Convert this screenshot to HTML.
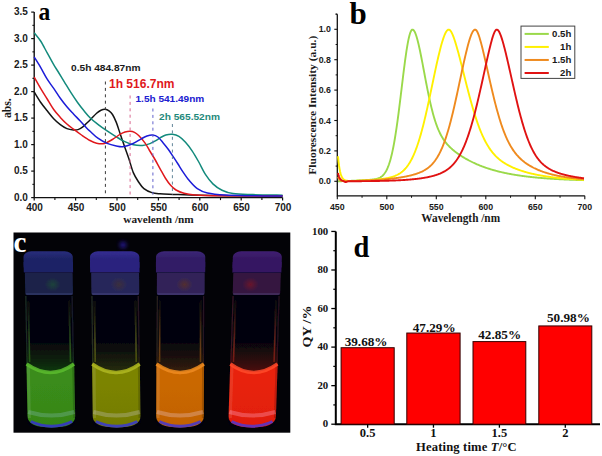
<!DOCTYPE html>
<html><head><meta charset="utf-8"><title>Figure</title>
<style>html,body{margin:0;padding:0;background:#fff;width:602px;height:456px;overflow:hidden;font-family:"Liberation Sans",sans-serif;}svg{display:block;}</style>
</head><body><svg width="602" height="456" viewBox="0 0 602 456"><rect width="602" height="456" fill="#fff"/><path d="M34.2,12.1 V197.6 H282.6" fill="none" stroke="#111" stroke-width="1.4"/><line x1="31.2" y1="197.60" x2="34.2" y2="197.60" stroke="#111" stroke-width="1.2"/><text x="27.9" y="200.60" text-anchor="end" font-family="'Liberation Sans',sans-serif" font-weight="bold" font-size="10" fill="#1a1a1a">0.0</text><line x1="32.4" y1="184.35" x2="34.2" y2="184.35" stroke="#111" stroke-width="1.1"/><line x1="31.2" y1="171.10" x2="34.2" y2="171.10" stroke="#111" stroke-width="1.2"/><text x="27.9" y="174.10" text-anchor="end" font-family="'Liberation Sans',sans-serif" font-weight="bold" font-size="10" fill="#1a1a1a">0.5</text><line x1="32.4" y1="157.85" x2="34.2" y2="157.85" stroke="#111" stroke-width="1.1"/><line x1="31.2" y1="144.60" x2="34.2" y2="144.60" stroke="#111" stroke-width="1.2"/><text x="27.9" y="147.60" text-anchor="end" font-family="'Liberation Sans',sans-serif" font-weight="bold" font-size="10" fill="#1a1a1a">1.0</text><line x1="32.4" y1="131.35" x2="34.2" y2="131.35" stroke="#111" stroke-width="1.1"/><line x1="31.2" y1="118.10" x2="34.2" y2="118.10" stroke="#111" stroke-width="1.2"/><text x="27.9" y="121.10" text-anchor="end" font-family="'Liberation Sans',sans-serif" font-weight="bold" font-size="10" fill="#1a1a1a">1.5</text><line x1="32.4" y1="104.85" x2="34.2" y2="104.85" stroke="#111" stroke-width="1.1"/><line x1="31.2" y1="91.60" x2="34.2" y2="91.60" stroke="#111" stroke-width="1.2"/><text x="27.9" y="94.60" text-anchor="end" font-family="'Liberation Sans',sans-serif" font-weight="bold" font-size="10" fill="#1a1a1a">2.0</text><line x1="32.4" y1="78.35" x2="34.2" y2="78.35" stroke="#111" stroke-width="1.1"/><line x1="31.2" y1="65.10" x2="34.2" y2="65.10" stroke="#111" stroke-width="1.2"/><text x="27.9" y="68.10" text-anchor="end" font-family="'Liberation Sans',sans-serif" font-weight="bold" font-size="10" fill="#1a1a1a">2.5</text><line x1="32.4" y1="51.85" x2="34.2" y2="51.85" stroke="#111" stroke-width="1.1"/><line x1="31.2" y1="38.60" x2="34.2" y2="38.60" stroke="#111" stroke-width="1.2"/><text x="27.9" y="41.60" text-anchor="end" font-family="'Liberation Sans',sans-serif" font-weight="bold" font-size="10" fill="#1a1a1a">3.0</text><line x1="32.4" y1="25.35" x2="34.2" y2="25.35" stroke="#111" stroke-width="1.1"/><line x1="31.2" y1="12.10" x2="34.2" y2="12.10" stroke="#111" stroke-width="1.2"/><text x="27.9" y="15.10" text-anchor="end" font-family="'Liberation Sans',sans-serif" font-weight="bold" font-size="10" fill="#1a1a1a">3.5</text><line x1="34.20" y1="197.6" x2="34.20" y2="200.6" stroke="#111" stroke-width="1.2"/><text x="34.60" y="210.9" text-anchor="middle" font-family="'Liberation Sans',sans-serif" font-weight="bold" font-size="10" fill="#1a1a1a">400</text><line x1="54.90" y1="197.6" x2="54.90" y2="200.1" stroke="#111" stroke-width="1.1"/><line x1="75.60" y1="197.6" x2="75.60" y2="200.6" stroke="#111" stroke-width="1.2"/><text x="76.00" y="210.9" text-anchor="middle" font-family="'Liberation Sans',sans-serif" font-weight="bold" font-size="10" fill="#1a1a1a">450</text><line x1="96.30" y1="197.6" x2="96.30" y2="200.1" stroke="#111" stroke-width="1.1"/><line x1="117.00" y1="197.6" x2="117.00" y2="200.6" stroke="#111" stroke-width="1.2"/><text x="117.40" y="210.9" text-anchor="middle" font-family="'Liberation Sans',sans-serif" font-weight="bold" font-size="10" fill="#1a1a1a">500</text><line x1="137.70" y1="197.6" x2="137.70" y2="200.1" stroke="#111" stroke-width="1.1"/><line x1="158.40" y1="197.6" x2="158.40" y2="200.6" stroke="#111" stroke-width="1.2"/><text x="158.80" y="210.9" text-anchor="middle" font-family="'Liberation Sans',sans-serif" font-weight="bold" font-size="10" fill="#1a1a1a">550</text><line x1="179.10" y1="197.6" x2="179.10" y2="200.1" stroke="#111" stroke-width="1.1"/><line x1="199.80" y1="197.6" x2="199.80" y2="200.6" stroke="#111" stroke-width="1.2"/><text x="200.20" y="210.9" text-anchor="middle" font-family="'Liberation Sans',sans-serif" font-weight="bold" font-size="10" fill="#1a1a1a">600</text><line x1="220.50" y1="197.6" x2="220.50" y2="200.1" stroke="#111" stroke-width="1.1"/><line x1="241.20" y1="197.6" x2="241.20" y2="200.6" stroke="#111" stroke-width="1.2"/><text x="241.60" y="210.9" text-anchor="middle" font-family="'Liberation Sans',sans-serif" font-weight="bold" font-size="10" fill="#1a1a1a">650</text><line x1="261.90" y1="197.6" x2="261.90" y2="200.1" stroke="#111" stroke-width="1.1"/><line x1="282.60" y1="197.6" x2="282.60" y2="200.6" stroke="#111" stroke-width="1.2"/><text x="283.00" y="210.9" text-anchor="middle" font-family="'Liberation Sans',sans-serif" font-weight="bold" font-size="10" fill="#1a1a1a">700</text><path d="M34.20,92.00 C35.27,93.70 38.43,99.07 40.60,102.20 C42.77,105.33 45.02,108.05 47.20,110.80 C49.38,113.55 51.52,116.40 53.70,118.70 C55.88,121.00 58.10,122.95 60.30,124.60 C62.50,126.25 64.70,127.72 66.90,128.60 C69.10,129.48 71.65,129.73 73.50,129.90 C75.35,130.07 76.50,130.05 78.00,129.60 C79.50,129.15 81.07,128.25 82.50,127.20 C83.93,126.15 85.18,124.67 86.60,123.30 C88.02,121.93 89.33,120.68 91.00,119.00 C92.67,117.32 94.93,114.67 96.60,113.20 C98.27,111.73 99.57,110.85 101.00,110.20 C102.43,109.55 103.87,109.20 105.20,109.30 C106.53,109.40 107.78,109.93 109.00,110.80 C110.22,111.67 111.28,112.57 112.50,114.50 C113.72,116.43 115.00,119.12 116.30,122.40 C117.60,125.68 118.98,130.35 120.30,134.20 C121.62,138.05 122.78,141.45 124.20,145.50 C125.62,149.55 127.28,153.98 128.80,158.50 C130.32,163.02 131.67,168.68 133.30,172.60 C134.93,176.52 136.83,179.33 138.60,182.00 C140.37,184.67 141.68,186.83 143.90,188.60 C146.12,190.37 149.22,191.73 151.90,192.60 C154.58,193.47 156.43,193.50 160.00,193.80 C163.57,194.10 166.63,194.15 173.30,194.40 C179.97,194.65 188.88,195.08 200.00,195.30 C211.12,195.52 226.23,195.60 240.00,195.70 C253.77,195.80 275.50,195.87 282.60,195.90" fill="none" stroke="#141414" stroke-width="1.5" stroke-linejoin="round"/><path d="M34.20,32.70 C35.27,34.08 38.43,37.63 40.60,41.00 C42.77,44.37 45.02,48.95 47.20,52.90 C49.38,56.85 51.90,61.60 53.70,64.70 C55.50,67.80 56.23,68.65 58.00,71.50 C59.77,74.35 62.17,78.32 64.30,81.80 C66.43,85.28 68.62,89.00 70.80,92.40 C72.98,95.80 75.20,99.13 77.40,102.20 C79.60,105.27 81.82,108.13 84.00,110.80 C86.18,113.47 88.18,115.95 90.50,118.20 C92.82,120.45 95.13,122.18 97.90,124.30 C100.67,126.42 104.03,128.82 107.10,130.90 C110.17,132.98 113.45,135.05 116.30,136.80 C119.15,138.55 121.35,140.08 124.20,141.40 C127.05,142.72 130.33,144.03 133.40,144.70 C136.47,145.37 139.83,145.58 142.60,145.40 C145.37,145.22 147.88,144.35 150.00,143.60 C152.12,142.85 153.55,141.90 155.30,140.90 C157.05,139.90 158.75,138.58 160.50,137.60 C162.25,136.62 163.82,135.55 165.80,135.00 C167.78,134.45 170.22,134.08 172.40,134.30 C174.58,134.52 176.72,134.98 178.90,136.30 C181.08,137.62 183.30,139.78 185.50,142.20 C187.70,144.62 189.93,147.58 192.10,150.80 C194.27,154.02 196.25,157.52 198.50,161.50 C200.75,165.48 203.20,170.97 205.60,174.70 C208.00,178.43 210.17,181.30 212.90,183.90 C215.63,186.50 218.65,188.68 222.00,190.30 C225.35,191.92 227.83,192.88 233.00,193.60 C238.17,194.32 244.73,194.33 253.00,194.60 C261.27,194.87 277.67,195.10 282.60,195.20" fill="none" stroke="#138a7c" stroke-width="1.5" stroke-linejoin="round"/><path d="M34.20,77.20 C35.27,79.07 38.43,84.77 40.60,88.40 C42.77,92.03 45.02,95.48 47.20,99.00 C49.38,102.52 51.52,106.43 53.70,109.50 C55.88,112.57 58.10,114.98 60.30,117.40 C62.50,119.82 64.70,122.03 66.90,124.00 C69.10,125.97 71.07,127.37 73.50,129.20 C75.93,131.03 78.75,133.12 81.50,135.00 C84.25,136.88 87.48,139.13 90.00,140.50 C92.52,141.87 94.18,142.72 96.60,143.20 C99.02,143.68 101.87,144.02 104.50,143.40 C107.13,142.78 109.77,141.03 112.40,139.50 C115.03,137.97 118.20,135.45 120.30,134.20 C122.40,132.95 123.37,132.50 125.00,132.00 C126.63,131.50 128.52,131.15 130.10,131.20 C131.68,131.25 133.07,131.58 134.50,132.30 C135.93,133.02 136.90,133.65 138.70,135.50 C140.50,137.35 143.50,140.90 145.30,143.40 C147.10,145.90 147.88,147.82 149.50,150.50 C151.12,153.18 153.25,156.48 155.00,159.50 C156.75,162.52 158.28,165.52 160.00,168.60 C161.72,171.68 163.53,175.22 165.30,178.00 C167.07,180.78 168.82,183.30 170.60,185.30 C172.38,187.30 173.77,188.67 176.00,190.00 C178.23,191.33 180.90,192.48 184.00,193.30 C187.10,194.12 188.60,194.50 194.60,194.90 C200.60,195.30 205.33,195.50 220.00,195.70 C234.67,195.90 272.17,196.03 282.60,196.10" fill="none" stroke="#e0181c" stroke-width="1.5" stroke-linejoin="round"/><path d="M34.20,57.00 C35.27,58.73 38.43,63.70 40.60,67.40 C42.77,71.10 45.02,75.70 47.20,79.20 C49.38,82.70 51.52,85.22 53.70,88.40 C55.88,91.58 58.10,95.23 60.30,98.30 C62.50,101.37 64.70,104.18 66.90,106.80 C69.10,109.42 71.32,111.68 73.50,114.00 C75.68,116.32 77.82,118.38 80.00,120.70 C82.18,123.02 84.93,126.15 86.60,127.90 C88.27,129.65 88.12,129.48 90.00,131.20 C91.88,132.92 95.05,136.17 97.90,138.20 C100.75,140.23 104.03,142.10 107.10,143.40 C110.17,144.70 113.67,145.45 116.30,146.00 C118.93,146.55 120.27,147.03 122.90,146.70 C125.53,146.37 129.03,145.32 132.10,144.00 C135.17,142.68 138.82,140.13 141.30,138.80 C143.78,137.47 145.12,136.63 147.00,136.00 C148.88,135.37 150.78,134.83 152.60,135.00 C154.42,135.17 156.13,135.68 157.90,137.00 C159.67,138.32 161.45,140.82 163.20,142.90 C164.95,144.98 166.65,147.08 168.40,149.50 C170.15,151.92 172.10,154.98 173.70,157.40 C175.30,159.82 176.52,161.68 178.00,164.00 C179.48,166.32 180.72,168.53 182.60,171.30 C184.48,174.07 186.85,177.72 189.30,180.60 C191.75,183.48 194.28,186.53 197.30,188.60 C200.32,190.67 202.67,191.92 207.40,193.00 C212.13,194.08 218.60,194.63 225.70,195.10 C232.80,195.57 240.52,195.63 250.00,195.80 C259.48,195.97 277.17,196.05 282.60,196.10" fill="none" stroke="#1c1cd8" stroke-width="1.5" stroke-linejoin="round"/><line x1="105.4" y1="81.5" x2="105.4" y2="195" stroke="#3a3a3a" stroke-width="1" stroke-dasharray="3,3.4"/><line x1="130.1" y1="95.5" x2="130.1" y2="195" stroke="#d86890" stroke-width="1" stroke-dasharray="3,3.4"/><line x1="152.9" y1="108.5" x2="152.9" y2="195" stroke="#6262cc" stroke-width="1" stroke-dasharray="3,3.4"/><line x1="172.4" y1="124" x2="172.4" y2="195" stroke="#62869a" stroke-width="1" stroke-dasharray="3,3.4"/><text x="71" y="71" font-family="'Liberation Sans',sans-serif" font-weight="bold" font-size="9.6" fill="#1a1a1a" textLength="69.5" lengthAdjust="spacingAndGlyphs">0.5h 484.87nm</text><text x="109" y="87.6" font-family="'Liberation Sans',sans-serif" font-weight="bold" font-size="12" fill="#e0181c" textLength="65.5" lengthAdjust="spacingAndGlyphs">1h 516.7nm</text><text x="135.5" y="101.7" font-family="'Liberation Sans',sans-serif" font-weight="bold" font-size="9.6" fill="#2020d0" textLength="68.8" lengthAdjust="spacingAndGlyphs">1.5h 541.49nm</text><text x="159" y="119.6" font-family="'Liberation Sans',sans-serif" font-weight="bold" font-size="9.6" fill="#1f8a7c" textLength="61" lengthAdjust="spacingAndGlyphs">2h 565.52nm</text><text x="158.5" y="223" text-anchor="middle" font-family="'Liberation Serif',serif" font-weight="bold" font-size="11" fill="#1a1a1a" textLength="70.5" lengthAdjust="spacingAndGlyphs">wavelenth /nm</text><text transform="translate(10.8,108.2) rotate(-90)" text-anchor="middle" font-family="'Liberation Serif',serif" font-weight="bold" font-size="12" fill="#1a1a1a" textLength="19.8" lengthAdjust="spacingAndGlyphs">abs.</text><text x="38.4" y="19.8" font-family="'Liberation Serif',serif" font-weight="bold" font-size="26" fill="#000" textLength="11.8" lengthAdjust="spacingAndGlyphs">a</text><path d="M337.3,14.2 V195.8 H584.8" fill="none" stroke="#111" stroke-width="1.3"/><line x1="334.3" y1="181.30" x2="337.3" y2="181.30" stroke="#111" stroke-width="1.1"/><text x="330.9" y="184.40" text-anchor="end" font-family="'Liberation Sans',sans-serif" font-weight="bold" font-size="8.8" fill="#1a1a1a">0.0</text><line x1="335.6" y1="166.10" x2="337.3" y2="166.10" stroke="#111" stroke-width="1"/><line x1="334.3" y1="150.90" x2="337.3" y2="150.90" stroke="#111" stroke-width="1.1"/><text x="330.9" y="154.00" text-anchor="end" font-family="'Liberation Sans',sans-serif" font-weight="bold" font-size="8.8" fill="#1a1a1a">0.2</text><line x1="335.6" y1="135.70" x2="337.3" y2="135.70" stroke="#111" stroke-width="1"/><line x1="334.3" y1="120.50" x2="337.3" y2="120.50" stroke="#111" stroke-width="1.1"/><text x="330.9" y="123.60" text-anchor="end" font-family="'Liberation Sans',sans-serif" font-weight="bold" font-size="8.8" fill="#1a1a1a">0.4</text><line x1="335.6" y1="105.30" x2="337.3" y2="105.30" stroke="#111" stroke-width="1"/><line x1="334.3" y1="90.10" x2="337.3" y2="90.10" stroke="#111" stroke-width="1.1"/><text x="330.9" y="93.20" text-anchor="end" font-family="'Liberation Sans',sans-serif" font-weight="bold" font-size="8.8" fill="#1a1a1a">0.6</text><line x1="335.6" y1="74.90" x2="337.3" y2="74.90" stroke="#111" stroke-width="1"/><line x1="334.3" y1="59.70" x2="337.3" y2="59.70" stroke="#111" stroke-width="1.1"/><text x="330.9" y="62.80" text-anchor="end" font-family="'Liberation Sans',sans-serif" font-weight="bold" font-size="8.8" fill="#1a1a1a">0.8</text><line x1="335.6" y1="44.50" x2="337.3" y2="44.50" stroke="#111" stroke-width="1"/><line x1="334.3" y1="29.30" x2="337.3" y2="29.30" stroke="#111" stroke-width="1.1"/><text x="330.9" y="32.40" text-anchor="end" font-family="'Liberation Sans',sans-serif" font-weight="bold" font-size="8.8" fill="#1a1a1a">1.0</text><line x1="335.6" y1="14.10" x2="337.3" y2="14.10" stroke="#111" stroke-width="1"/><line x1="335.6" y1="14.2" x2="337.3" y2="14.2" stroke="#111" stroke-width="1"/><line x1="337.30" y1="195.8" x2="337.30" y2="199.3" stroke="#111" stroke-width="1.1"/><text x="337.30" y="210.4" text-anchor="middle" font-family="'Liberation Sans',sans-serif" font-weight="bold" font-size="8.8" fill="#1a1a1a">450</text><line x1="362.05" y1="195.8" x2="362.05" y2="197.8" stroke="#111" stroke-width="1"/><line x1="386.80" y1="195.8" x2="386.80" y2="199.3" stroke="#111" stroke-width="1.1"/><text x="386.80" y="210.4" text-anchor="middle" font-family="'Liberation Sans',sans-serif" font-weight="bold" font-size="8.8" fill="#1a1a1a">500</text><line x1="411.55" y1="195.8" x2="411.55" y2="197.8" stroke="#111" stroke-width="1"/><line x1="436.30" y1="195.8" x2="436.30" y2="199.3" stroke="#111" stroke-width="1.1"/><text x="436.30" y="210.4" text-anchor="middle" font-family="'Liberation Sans',sans-serif" font-weight="bold" font-size="8.8" fill="#1a1a1a">550</text><line x1="461.05" y1="195.8" x2="461.05" y2="197.8" stroke="#111" stroke-width="1"/><line x1="485.80" y1="195.8" x2="485.80" y2="199.3" stroke="#111" stroke-width="1.1"/><text x="485.80" y="210.4" text-anchor="middle" font-family="'Liberation Sans',sans-serif" font-weight="bold" font-size="8.8" fill="#1a1a1a">600</text><line x1="510.55" y1="195.8" x2="510.55" y2="197.8" stroke="#111" stroke-width="1"/><line x1="535.30" y1="195.8" x2="535.30" y2="199.3" stroke="#111" stroke-width="1.1"/><text x="535.30" y="210.4" text-anchor="middle" font-family="'Liberation Sans',sans-serif" font-weight="bold" font-size="8.8" fill="#1a1a1a">650</text><line x1="560.05" y1="195.8" x2="560.05" y2="197.8" stroke="#111" stroke-width="1"/><line x1="584.80" y1="195.8" x2="584.80" y2="199.3" stroke="#111" stroke-width="1.1"/><text x="584.80" y="210.4" text-anchor="middle" font-family="'Liberation Sans',sans-serif" font-weight="bold" font-size="8.8" fill="#1a1a1a">700</text><path d="M338.00,181.30 L338.50,181.28 L339.00,181.27 L339.50,181.25 L340.00,181.24 L340.50,181.22 L341.00,181.20 L341.50,181.19 L342.00,181.17 L342.50,181.15 L343.00,181.14 L343.50,181.12 L344.00,181.10 L344.50,181.09 L345.00,181.07 L345.50,181.05 L346.00,181.03 L346.50,181.01 L347.00,180.99 L347.50,180.98 L348.00,180.96 L348.50,180.94 L349.00,180.92 L349.50,180.90 L350.00,180.88 L350.50,180.86 L351.00,180.84 L351.50,180.82 L352.00,180.80 L352.50,180.78 L353.00,180.75 L353.50,180.73 L354.00,180.71 L354.50,180.69 L355.00,180.67 L355.50,180.64 L356.00,180.62 L356.50,180.60 L357.00,180.57 L357.50,180.55 L358.00,180.53 L358.50,180.50 L359.00,180.48 L359.50,180.45 L360.00,180.43 L360.50,180.40 L361.00,180.38 L361.50,180.35 L362.00,180.33 L362.50,180.30 L363.00,180.27 L363.50,180.24 L364.00,180.21 L364.50,180.19 L365.00,180.16 L365.50,180.13 L366.00,180.10 L366.50,180.06 L367.00,180.03 L367.50,180.00 L368.00,179.96 L368.50,179.92 L369.00,179.89 L369.50,179.85 L370.00,179.80 L370.50,179.76 L371.00,179.71 L371.50,179.66 L372.00,179.61 L372.50,179.55 L373.00,179.48 L373.50,179.41 L374.00,179.34 L374.50,179.26 L375.00,179.17 L375.50,179.07 L376.00,178.96 L376.50,178.83 L377.00,178.70 L377.50,178.55 L378.00,178.38 L378.50,178.20 L379.00,177.99 L379.50,177.76 L380.00,177.51 L380.50,177.23 L381.00,176.91 L381.50,176.56 L382.00,176.17 L382.50,175.74 L383.00,175.27 L383.50,174.74 L384.00,174.16 L384.50,173.52 L385.00,172.82 L385.50,172.05 L386.00,171.21 L386.50,170.28 L387.00,169.27 L387.50,168.18 L388.00,166.98 L388.50,165.69 L389.00,164.29 L389.50,162.78 L390.00,161.16 L390.50,159.42 L391.00,157.55 L391.50,155.55 L392.00,153.42 L392.50,151.16 L393.00,148.76 L393.50,146.22 L394.00,143.55 L394.50,140.73 L395.00,137.78 L395.50,134.69 L396.00,131.47 L396.50,128.12 L397.00,124.65 L397.50,121.06 L398.00,117.36 L398.50,113.56 L399.00,109.68 L399.50,105.71 L400.00,101.68 L400.50,97.60 L401.00,93.48 L401.50,89.33 L402.00,85.19 L402.50,81.05 L403.00,76.95 L403.50,72.90 L404.00,68.91 L404.50,65.02 L405.00,61.23 L405.50,57.58 L406.00,54.07 L406.50,50.73 L407.00,47.57 L407.50,44.62 L408.00,41.89 L408.50,39.41 L409.00,37.17 L409.50,35.20 L410.00,33.51 L410.50,32.12 L411.00,31.02 L411.50,30.23 L412.00,29.76 L412.50,29.60 L413.00,29.72 L413.50,30.06 L414.00,30.64 L414.50,31.42 L415.00,32.42 L415.50,33.60 L416.00,34.97 L416.50,36.50 L417.00,38.18 L417.50,40.01 L418.00,41.96 L418.50,44.03 L419.00,46.20 L419.50,48.47 L420.00,50.81 L420.50,53.23 L421.00,55.72 L421.50,58.25 L422.00,60.83 L422.50,63.44 L423.00,66.07 L423.50,68.73 L424.00,71.39 L424.50,74.05 L425.00,76.70 L425.50,79.33 L426.00,81.95 L426.50,84.54 L427.00,87.09 L427.50,89.61 L428.00,92.08 L428.50,94.50 L429.00,96.87 L429.50,99.19 L430.00,101.45 L430.50,103.64 L431.00,105.78 L431.50,107.85 L432.00,109.85 L432.50,111.79 L433.00,113.66 L433.50,115.46 L434.00,117.20 L434.50,118.87 L435.00,120.47 L435.50,122.01 L436.00,123.49 L436.50,124.91 L437.00,126.26 L437.50,127.56 L438.00,128.81 L438.50,130.00 L439.00,131.13 L439.50,132.22 L440.00,133.26 L440.50,134.26 L441.00,135.21 L441.50,136.12 L442.00,136.99 L442.50,137.83 L443.00,138.63 L443.50,139.40 L444.00,140.14 L444.50,140.85 L445.00,141.53 L445.50,142.19 L446.00,142.82 L446.50,143.43 L447.00,144.02 L447.50,144.59 L448.00,145.14 L448.50,145.68 L449.00,146.20 L449.50,146.71 L450.00,147.20 L450.50,147.68 L451.00,148.15 L451.50,148.60 L452.00,149.05 L452.50,149.49 L453.00,149.91 L453.50,150.33 L454.00,150.74 L454.50,151.14 L455.00,151.54 L455.50,151.92 L456.00,152.31 L456.50,152.68 L457.00,153.05 L457.50,153.41 L458.00,153.77 L458.50,154.12 L459.00,154.47 L459.50,154.81 L460.00,155.14 L460.50,155.48 L461.00,155.80 L461.50,156.13 L462.00,156.45 L462.50,156.76 L463.00,157.07 L463.50,157.38 L464.00,157.68 L464.50,157.98 L465.00,158.27 L465.50,158.56 L466.00,158.85 L466.50,159.13 L467.00,159.41 L467.50,159.69 L468.00,159.96 L468.50,160.23 L469.00,160.49 L469.50,160.75 L470.00,161.01 L470.50,161.27 L471.00,161.52 L471.50,161.77 L472.00,162.02 L472.50,162.26 L473.00,162.50 L473.50,162.74 L474.00,162.97 L474.50,163.20 L475.00,163.43 L475.50,163.66 L476.00,163.88 L476.50,164.10 L477.00,164.31 L477.50,164.53 L478.00,164.74 L478.50,164.95 L479.00,165.15 L479.50,165.36 L480.00,165.56 L480.50,165.76 L481.00,165.95 L481.50,166.15 L482.00,166.34 L482.50,166.53 L483.00,166.71 L483.50,166.90 L484.00,167.08 L484.50,167.26 L485.00,167.44 L485.50,167.61 L486.00,167.78 L486.50,167.95 L487.00,168.12 L487.50,168.29 L488.00,168.45 L488.50,168.61 L489.00,168.77 L489.50,168.93 L490.00,169.09 L490.50,169.24 L491.00,169.39 L491.50,169.54 L492.00,169.69 L492.50,169.84 L493.00,169.98 L493.50,170.13 L494.00,170.27 L494.50,170.41 L495.00,170.54 L495.50,170.68 L496.00,170.81 L496.50,170.95 L497.00,171.08 L497.50,171.21 L498.00,171.33 L498.50,171.46 L499.00,171.58 L499.50,171.71 L500.00,171.83 L500.50,171.95 L501.00,172.07 L501.50,172.18 L502.00,172.30 L502.50,172.41 L503.00,172.52 L503.50,172.63 L504.00,172.74 L504.50,172.85 L505.00,172.96 L505.50,173.06 L506.00,173.17 L506.50,173.27 L507.00,173.37 L507.50,173.47 L508.00,173.57 L508.50,173.67 L509.00,173.76 L509.50,173.86 L510.00,173.95 L510.50,174.05 L511.00,174.14 L511.50,174.23 L512.00,174.32 L512.50,174.41 L513.00,174.49 L513.50,174.58 L514.00,174.66 L514.50,174.75 L515.00,174.83 L515.50,174.91 L516.00,174.99 L516.50,175.07 L517.00,175.15 L517.50,175.23 L518.00,175.31 L518.50,175.38 L519.00,175.46 L519.50,175.53 L520.00,175.60 L520.50,175.67 L521.00,175.75 L521.50,175.82 L522.00,175.88 L522.50,175.95 L523.00,176.02 L523.50,176.09 L524.00,176.15 L524.50,176.22 L525.00,176.28 L525.50,176.35 L526.00,176.41 L526.50,176.47 L527.00,176.53 L527.50,176.59 L528.00,176.65 L528.50,176.71 L529.00,176.77 L529.50,176.82 L530.00,176.88 L530.50,176.94 L531.00,176.99 L531.50,177.05 L532.00,177.10 L532.50,177.15 L533.00,177.21 L533.50,177.26 L534.00,177.31 L534.50,177.36 L535.00,177.41 L535.50,177.46 L536.00,177.51 L536.50,177.55 L537.00,177.60 L537.50,177.65 L538.00,177.69 L538.50,177.74 L539.00,177.79 L539.50,177.83 L540.00,177.87 L540.50,177.92 L541.00,177.96 L541.50,178.00 L542.00,178.04 L542.50,178.08 L543.00,178.13 L543.50,178.17 L544.00,178.20 L544.50,178.24 L545.00,178.28 L545.50,178.32 L546.00,178.36 L546.50,178.40 L547.00,178.43 L547.50,178.47 L548.00,178.50 L548.50,178.54 L549.00,178.57 L549.50,178.61 L550.00,178.64 L550.50,178.68 L551.00,178.71 L551.50,178.74 L552.00,178.77 L552.50,178.81 L553.00,178.84 L553.50,178.87 L554.00,178.90 L554.50,178.93 L555.00,178.96 L555.50,178.99 L556.00,179.02 L556.50,179.05 L557.00,179.08 L557.50,179.10 L558.00,179.13 L558.50,179.16 L559.00,179.19 L559.50,179.21 L560.00,179.24 L560.50,179.27 L561.00,179.29 L561.50,179.32 L562.00,179.34 L562.50,179.37 L563.00,179.39 L563.50,179.42 L564.00,179.44 L564.50,179.46 L565.00,179.49 L565.50,179.51 L566.00,179.53 L566.50,179.55 L567.00,179.58 L567.50,179.60 L568.00,179.62 L568.50,179.64 L569.00,179.66 L569.50,179.68 L570.00,179.70 L570.50,179.72 L571.00,179.74 L571.50,179.76 L572.00,179.78 L572.50,179.80 L573.00,179.82 L573.50,179.84 L574.00,179.86 L574.50,179.88 L575.00,179.89 L575.50,179.91 L576.00,179.93 L576.50,179.95 L577.00,179.96 L577.50,179.98 L578.00,180.00 L578.50,180.01 L579.00,180.03 L579.50,180.05 L580.00,180.06 L580.50,180.08 L581.00,180.09 L581.50,180.11 L582.00,180.12 L582.50,180.14 L583.00,180.15 L583.50,180.17 L584.00,180.18" fill="none" stroke="#9ad94a" stroke-width="1.9" stroke-linejoin="round"/><path d="M338.00,156.27 L338.50,161.35 L339.00,165.40 L339.50,168.62 L340.00,171.18 L340.50,173.22 L341.00,174.85 L341.50,176.14 L342.00,177.16 L342.50,177.98 L343.00,178.63 L343.50,179.14 L344.00,179.55 L344.50,179.87 L345.00,180.12 L345.50,180.32 L346.00,180.48 L346.50,180.60 L347.00,180.70 L347.50,180.77 L348.00,180.83 L348.50,180.87 L349.00,180.90 L349.50,180.92 L350.00,180.93 L350.50,180.94 L351.00,180.94 L351.50,180.94 L352.00,180.93 L352.50,180.93 L353.00,180.92 L353.50,180.91 L354.00,180.90 L354.50,180.88 L355.00,180.87 L355.50,180.85 L356.00,180.84 L356.50,180.82 L357.00,180.80 L357.50,180.78 L358.00,180.76 L358.50,180.75 L359.00,180.72 L359.50,180.70 L360.00,180.68 L360.50,180.66 L361.00,180.64 L361.50,180.62 L362.00,180.59 L362.50,180.57 L363.00,180.54 L363.50,180.52 L364.00,180.49 L364.50,180.47 L365.00,180.44 L365.50,180.41 L366.00,180.38 L366.50,180.36 L367.00,180.33 L367.50,180.30 L368.00,180.26 L368.50,180.23 L369.00,180.20 L369.50,180.17 L370.00,180.13 L370.50,180.10 L371.00,180.06 L371.50,180.03 L372.00,179.99 L372.50,179.95 L373.00,179.91 L373.50,179.87 L374.00,179.83 L374.50,179.79 L375.00,179.74 L375.50,179.70 L376.00,179.65 L376.50,179.61 L377.00,179.56 L377.50,179.51 L378.00,179.46 L378.50,179.40 L379.00,179.35 L379.50,179.29 L380.00,179.23 L380.50,179.17 L381.00,179.11 L381.50,179.05 L382.00,178.98 L382.50,178.91 L383.00,178.84 L383.50,178.77 L384.00,178.69 L384.50,178.61 L385.00,178.53 L385.50,178.45 L386.00,178.36 L386.50,178.27 L387.00,178.17 L387.50,178.07 L388.00,177.97 L388.50,177.86 L389.00,177.74 L389.50,177.63 L390.00,177.50 L390.50,177.37 L391.00,177.24 L391.50,177.10 L392.00,176.95 L392.50,176.79 L393.00,176.63 L393.50,176.46 L394.00,176.28 L394.50,176.09 L395.00,175.90 L395.50,175.69 L396.00,175.47 L396.50,175.24 L397.00,175.00 L397.50,174.75 L398.00,174.48 L398.50,174.21 L399.00,173.91 L399.50,173.60 L400.00,173.28 L400.50,172.94 L401.00,172.58 L401.50,172.21 L402.00,171.81 L402.50,171.40 L403.00,170.96 L403.50,170.51 L404.00,170.03 L404.50,169.52 L405.00,168.99 L405.50,168.44 L406.00,167.86 L406.50,167.26 L407.00,166.62 L407.50,165.95 L408.00,165.26 L408.50,164.53 L409.00,163.77 L409.50,162.98 L410.00,162.15 L410.50,161.29 L411.00,160.39 L411.50,159.45 L412.00,158.48 L412.50,157.46 L413.00,156.41 L413.50,155.31 L414.00,154.17 L414.50,153.00 L415.00,151.77 L415.50,150.51 L416.00,149.20 L416.50,147.85 L417.00,146.45 L417.50,145.00 L418.00,143.51 L418.50,141.98 L419.00,140.40 L419.50,138.77 L420.00,137.10 L420.50,135.39 L421.00,133.63 L421.50,131.82 L422.00,129.98 L422.50,128.09 L423.00,126.15 L423.50,124.18 L424.00,122.17 L424.50,120.12 L425.00,118.03 L425.50,115.91 L426.00,113.75 L426.50,111.56 L427.00,109.34 L427.50,107.09 L428.00,104.82 L428.50,102.52 L429.00,100.20 L429.50,97.87 L430.00,95.51 L430.50,93.15 L431.00,90.77 L431.50,88.38 L432.00,85.99 L432.50,83.60 L433.00,81.21 L433.50,78.83 L434.00,76.45 L434.50,74.09 L435.00,71.74 L435.50,69.41 L436.00,67.10 L436.50,64.82 L437.00,62.57 L437.50,60.35 L438.00,58.17 L438.50,56.03 L439.00,53.94 L439.50,51.90 L440.00,49.91 L440.50,47.97 L441.00,46.10 L441.50,44.30 L442.00,42.57 L442.50,40.91 L443.00,39.34 L443.50,37.86 L444.00,36.47 L444.50,35.18 L445.00,34.01 L445.50,32.95 L446.00,32.02 L446.50,31.23 L447.00,30.58 L447.50,30.09 L448.00,29.77 L448.50,29.61 L449.00,29.63 L449.50,29.83 L450.00,30.21 L450.50,30.76 L451.00,31.47 L451.50,32.32 L452.00,33.30 L452.50,34.41 L453.00,35.61 L453.50,36.91 L454.00,38.30 L454.50,39.76 L455.00,41.28 L455.50,42.87 L456.00,44.51 L456.50,46.20 L457.00,47.93 L457.50,49.71 L458.00,51.52 L458.50,53.35 L459.00,55.22 L459.50,57.11 L460.00,59.03 L460.50,60.96 L461.00,62.91 L461.50,64.87 L462.00,66.84 L462.50,68.82 L463.00,70.81 L463.50,72.80 L464.00,74.79 L464.50,76.78 L465.00,78.77 L465.50,80.75 L466.00,82.73 L466.50,84.70 L467.00,86.65 L467.50,88.60 L468.00,90.53 L468.50,92.44 L469.00,94.34 L469.50,96.22 L470.00,98.08 L470.50,99.91 L471.00,101.73 L471.50,103.52 L472.00,105.29 L472.50,107.03 L473.00,108.74 L473.50,110.42 L474.00,112.08 L474.50,113.71 L475.00,115.31 L475.50,116.88 L476.00,118.41 L476.50,119.92 L477.00,121.40 L477.50,122.84 L478.00,124.25 L478.50,125.63 L479.00,126.98 L479.50,128.30 L480.00,129.58 L480.50,130.84 L481.00,132.06 L481.50,133.25 L482.00,134.41 L482.50,135.54 L483.00,136.64 L483.50,137.71 L484.00,138.75 L484.50,139.76 L485.00,140.74 L485.50,141.69 L486.00,142.62 L486.50,143.52 L487.00,144.39 L487.50,145.24 L488.00,146.07 L488.50,146.86 L489.00,147.64 L489.50,148.39 L490.00,149.12 L490.50,149.83 L491.00,150.51 L491.50,151.18 L492.00,151.82 L492.50,152.45 L493.00,153.05 L493.50,153.64 L494.00,154.21 L494.50,154.77 L495.00,155.30 L495.50,155.83 L496.00,156.33 L496.50,156.83 L497.00,157.30 L497.50,157.77 L498.00,158.22 L498.50,158.66 L499.00,159.08 L499.50,159.50 L500.00,159.90 L500.50,160.29 L501.00,160.68 L501.50,161.05 L502.00,161.41 L502.50,161.76 L503.00,162.11 L503.50,162.44 L504.00,162.77 L504.50,163.09 L505.00,163.40 L505.50,163.71 L506.00,164.01 L506.50,164.30 L507.00,164.58 L507.50,164.86 L508.00,165.13 L508.50,165.40 L509.00,165.66 L509.50,165.92 L510.00,166.17 L510.50,166.41 L511.00,166.65 L511.50,166.89 L512.00,167.12 L512.50,167.34 L513.00,167.57 L513.50,167.79 L514.00,168.00 L514.50,168.21 L515.00,168.42 L515.50,168.62 L516.00,168.82 L516.50,169.01 L517.00,169.20 L517.50,169.39 L518.00,169.58 L518.50,169.76 L519.00,169.94 L519.50,170.12 L520.00,170.29 L520.50,170.46 L521.00,170.63 L521.50,170.79 L522.00,170.95 L522.50,171.11 L523.00,171.27 L523.50,171.43 L524.00,171.58 L524.50,171.73 L525.00,171.87 L525.50,172.02 L526.00,172.16 L526.50,172.30 L527.00,172.44 L527.50,172.58 L528.00,172.71 L528.50,172.84 L529.00,172.97 L529.50,173.10 L530.00,173.23 L530.50,173.35 L531.00,173.47 L531.50,173.59 L532.00,173.71 L532.50,173.83 L533.00,173.94 L533.50,174.05 L534.00,174.16 L534.50,174.27 L535.00,174.38 L535.50,174.49 L536.00,174.59 L536.50,174.69 L537.00,174.80 L537.50,174.89 L538.00,174.99 L538.50,175.09 L539.00,175.18 L539.50,175.28 L540.00,175.37 L540.50,175.46 L541.00,175.55 L541.50,175.64 L542.00,175.73 L542.50,175.81 L543.00,175.89 L543.50,175.98 L544.00,176.06 L544.50,176.14 L545.00,176.22 L545.50,176.30 L546.00,176.37 L546.50,176.45 L547.00,176.52 L547.50,176.60 L548.00,176.67 L548.50,176.74 L549.00,176.81 L549.50,176.88 L550.00,176.95 L550.50,177.01 L551.00,177.08 L551.50,177.14 L552.00,177.21 L552.50,177.27 L553.00,177.33 L553.50,177.39 L554.00,177.45 L554.50,177.51 L555.00,177.57 L555.50,177.63 L556.00,177.68 L556.50,177.74 L557.00,177.79 L557.50,177.85 L558.00,177.90 L558.50,177.95 L559.00,178.00 L559.50,178.05 L560.00,178.10 L560.50,178.15 L561.00,178.20 L561.50,178.25 L562.00,178.29 L562.50,178.34 L563.00,178.38 L563.50,178.43 L564.00,178.47 L564.50,178.52 L565.00,178.56 L565.50,178.60 L566.00,178.64 L566.50,178.68 L567.00,178.72 L567.50,178.76 L568.00,178.80 L568.50,178.84 L569.00,178.88 L569.50,178.91 L570.00,178.95 L570.50,178.99 L571.00,179.02 L571.50,179.06 L572.00,179.09 L572.50,179.13 L573.00,179.16 L573.50,179.19 L574.00,179.22 L574.50,179.26 L575.00,179.29 L575.50,179.32 L576.00,179.35 L576.50,179.38 L577.00,179.41 L577.50,179.44 L578.00,179.47 L578.50,179.49 L579.00,179.52 L579.50,179.55 L580.00,179.58 L580.50,179.60 L581.00,179.63 L581.50,179.65 L582.00,179.68 L582.50,179.70 L583.00,179.73 L583.50,179.75 L584.00,179.78" fill="none" stroke="#fff000" stroke-width="1.9" stroke-linejoin="round"/><path d="M338.00,176.75 L338.50,178.03 L339.00,178.95 L339.50,179.60 L340.00,180.07 L340.50,180.40 L341.00,180.64 L341.50,180.80 L342.00,180.92 L342.50,181.00 L343.00,181.05 L343.50,181.09 L344.00,181.11 L344.50,181.13 L345.00,181.13 L345.50,181.14 L346.00,181.14 L346.50,181.13 L347.00,181.12 L347.50,181.12 L348.00,181.11 L348.50,181.10 L349.00,181.09 L349.50,181.08 L350.00,181.07 L350.50,181.05 L351.00,181.04 L351.50,181.03 L352.00,181.02 L352.50,181.00 L353.00,180.99 L353.50,180.98 L354.00,180.96 L354.50,180.95 L355.00,180.94 L355.50,180.92 L356.00,180.91 L356.50,180.89 L357.00,180.88 L357.50,180.86 L358.00,180.84 L358.50,180.83 L359.00,180.81 L359.50,180.79 L360.00,180.78 L360.50,180.76 L361.00,180.74 L361.50,180.72 L362.00,180.70 L362.50,180.69 L363.00,180.67 L363.50,180.65 L364.00,180.63 L364.50,180.61 L365.00,180.58 L365.50,180.56 L366.00,180.54 L366.50,180.52 L367.00,180.50 L367.50,180.47 L368.00,180.45 L368.50,180.43 L369.00,180.40 L369.50,180.38 L370.00,180.35 L370.50,180.33 L371.00,180.30 L371.50,180.27 L372.00,180.25 L372.50,180.22 L373.00,180.19 L373.50,180.16 L374.00,180.13 L374.50,180.10 L375.00,180.07 L375.50,180.04 L376.00,180.01 L376.50,179.98 L377.00,179.95 L377.50,179.91 L378.00,179.88 L378.50,179.84 L379.00,179.81 L379.50,179.77 L380.00,179.74 L380.50,179.70 L381.00,179.66 L381.50,179.62 L382.00,179.58 L382.50,179.54 L383.00,179.50 L383.50,179.46 L384.00,179.42 L384.50,179.37 L385.00,179.33 L385.50,179.28 L386.00,179.24 L386.50,179.19 L387.00,179.14 L387.50,179.10 L388.00,179.05 L388.50,179.00 L389.00,178.94 L389.50,178.89 L390.00,178.84 L390.50,178.78 L391.00,178.73 L391.50,178.67 L392.00,178.62 L392.50,178.56 L393.00,178.50 L393.50,178.44 L394.00,178.37 L394.50,178.31 L395.00,178.25 L395.50,178.18 L396.00,178.11 L396.50,178.05 L397.00,177.98 L397.50,177.91 L398.00,177.83 L398.50,177.76 L399.00,177.68 L399.50,177.61 L400.00,177.53 L400.50,177.45 L401.00,177.37 L401.50,177.29 L402.00,177.20 L402.50,177.12 L403.00,177.03 L403.50,176.94 L404.00,176.85 L404.50,176.75 L405.00,176.66 L405.50,176.56 L406.00,176.46 L406.50,176.36 L407.00,176.26 L407.50,176.15 L408.00,176.04 L408.50,175.93 L409.00,175.82 L409.50,175.70 L410.00,175.58 L410.50,175.46 L411.00,175.34 L411.50,175.21 L412.00,175.08 L412.50,174.95 L413.00,174.81 L413.50,174.67 L414.00,174.53 L414.50,174.38 L415.00,174.23 L415.50,174.07 L416.00,173.91 L416.50,173.74 L417.00,173.57 L417.50,173.40 L418.00,173.22 L418.50,173.03 L419.00,172.84 L419.50,172.64 L420.00,172.43 L420.50,172.22 L421.00,172.00 L421.50,171.77 L422.00,171.54 L422.50,171.30 L423.00,171.04 L423.50,170.78 L424.00,170.51 L424.50,170.23 L425.00,169.94 L425.50,169.63 L426.00,169.31 L426.50,168.98 L427.00,168.64 L427.50,168.29 L428.00,167.91 L428.50,167.53 L429.00,167.12 L429.50,166.70 L430.00,166.27 L430.50,165.81 L431.00,165.33 L431.50,164.84 L432.00,164.32 L432.50,163.78 L433.00,163.22 L433.50,162.63 L434.00,162.02 L434.50,161.38 L435.00,160.72 L435.50,160.02 L436.00,159.30 L436.50,158.55 L437.00,157.77 L437.50,156.95 L438.00,156.11 L438.50,155.22 L439.00,154.31 L439.50,153.35 L440.00,152.36 L440.50,151.34 L441.00,150.27 L441.50,149.17 L442.00,148.02 L442.50,146.83 L443.00,145.60 L443.50,144.33 L444.00,143.02 L444.50,141.66 L445.00,140.26 L445.50,138.82 L446.00,137.33 L446.50,135.79 L447.00,134.21 L447.50,132.59 L448.00,130.92 L448.50,129.21 L449.00,127.46 L449.50,125.66 L450.00,123.82 L450.50,121.94 L451.00,120.01 L451.50,118.05 L452.00,116.05 L452.50,114.01 L453.00,111.93 L453.50,109.82 L454.00,107.68 L454.50,105.50 L455.00,103.30 L455.50,101.07 L456.00,98.81 L456.50,96.53 L457.00,94.24 L457.50,91.92 L458.00,89.59 L458.50,87.25 L459.00,84.90 L459.50,82.55 L460.00,80.19 L460.50,77.83 L461.00,75.48 L461.50,73.14 L462.00,70.80 L462.50,68.48 L463.00,66.18 L463.50,63.91 L464.00,61.66 L464.50,59.43 L465.00,57.25 L465.50,55.10 L466.00,53.00 L466.50,50.94 L467.00,48.93 L467.50,46.99 L468.00,45.10 L468.50,43.28 L469.00,41.54 L469.50,39.88 L470.00,38.31 L470.50,36.83 L471.00,35.46 L471.50,34.21 L472.00,33.08 L472.50,32.09 L473.00,31.25 L473.50,30.57 L474.00,30.06 L474.50,29.74 L475.00,29.60 L475.50,29.68 L476.00,29.98 L476.50,30.51 L477.00,31.25 L477.50,32.19 L478.00,33.31 L478.50,34.58 L479.00,35.99 L479.50,37.53 L480.00,39.18 L480.50,40.92 L481.00,42.74 L481.50,44.63 L482.00,46.58 L482.50,48.59 L483.00,50.64 L483.50,52.73 L484.00,54.86 L484.50,57.01 L485.00,59.19 L485.50,61.39 L486.00,63.60 L486.50,65.83 L487.00,68.06 L487.50,70.29 L488.00,72.53 L488.50,74.76 L489.00,76.99 L489.50,79.21 L490.00,81.42 L490.50,83.62 L491.00,85.80 L491.50,87.96 L492.00,90.10 L492.50,92.22 L493.00,94.31 L493.50,96.38 L494.00,98.42 L494.50,100.43 L495.00,102.42 L495.50,104.37 L496.00,106.28 L496.50,108.16 L497.00,110.01 L497.50,111.82 L498.00,113.60 L498.50,115.33 L499.00,117.03 L499.50,118.70 L500.00,120.32 L500.50,121.90 L501.00,123.45 L501.50,124.95 L502.00,126.42 L502.50,127.85 L503.00,129.24 L503.50,130.60 L504.00,131.91 L504.50,133.19 L505.00,134.43 L505.50,135.64 L506.00,136.81 L506.50,137.94 L507.00,139.04 L507.50,140.11 L508.00,141.14 L508.50,142.15 L509.00,143.12 L509.50,144.06 L510.00,144.97 L510.50,145.86 L511.00,146.71 L511.50,147.54 L512.00,148.34 L512.50,149.12 L513.00,149.87 L513.50,150.60 L514.00,151.31 L514.50,151.99 L515.00,152.66 L515.50,153.30 L516.00,153.92 L516.50,154.53 L517.00,155.11 L517.50,155.68 L518.00,156.23 L518.50,156.77 L519.00,157.29 L519.50,157.79 L520.00,158.29 L520.50,158.76 L521.00,159.23 L521.50,159.68 L522.00,160.12 L522.50,160.55 L523.00,160.96 L523.50,161.37 L524.00,161.76 L524.50,162.15 L525.00,162.52 L525.50,162.89 L526.00,163.25 L526.50,163.60 L527.00,163.94 L527.50,164.27 L528.00,164.60 L528.50,164.92 L529.00,165.23 L529.50,165.53 L530.00,165.83 L530.50,166.12 L531.00,166.41 L531.50,166.69 L532.00,166.96 L532.50,167.23 L533.00,167.49 L533.50,167.74 L534.00,168.00 L534.50,168.24 L535.00,168.48 L535.50,168.72 L536.00,168.95 L536.50,169.18 L537.00,169.40 L537.50,169.62 L538.00,169.84 L538.50,170.05 L539.00,170.25 L539.50,170.46 L540.00,170.66 L540.50,170.85 L541.00,171.04 L541.50,171.23 L542.00,171.41 L542.50,171.59 L543.00,171.77 L543.50,171.95 L544.00,172.12 L544.50,172.29 L545.00,172.45 L545.50,172.61 L546.00,172.77 L546.50,172.93 L547.00,173.08 L547.50,173.23 L548.00,173.38 L548.50,173.52 L549.00,173.66 L549.50,173.80 L550.00,173.94 L550.50,174.07 L551.00,174.21 L551.50,174.34 L552.00,174.46 L552.50,174.59 L553.00,174.71 L553.50,174.83 L554.00,174.95 L554.50,175.06 L555.00,175.18 L555.50,175.29 L556.00,175.40 L556.50,175.51 L557.00,175.61 L557.50,175.72 L558.00,175.82 L558.50,175.92 L559.00,176.02 L559.50,176.11 L560.00,176.21 L560.50,176.30 L561.00,176.39 L561.50,176.48 L562.00,176.57 L562.50,176.66 L563.00,176.74 L563.50,176.82 L564.00,176.91 L564.50,176.99 L565.00,177.07 L565.50,177.14 L566.00,177.22 L566.50,177.29 L567.00,177.37 L567.50,177.44 L568.00,177.51 L568.50,177.58 L569.00,177.65 L569.50,177.71 L570.00,177.78 L570.50,177.84 L571.00,177.91 L571.50,177.97 L572.00,178.03 L572.50,178.09 L573.00,178.15 L573.50,178.20 L574.00,178.26 L574.50,178.32 L575.00,178.37 L575.50,178.42 L576.00,178.48 L576.50,178.53 L577.00,178.58 L577.50,178.63 L578.00,178.68 L578.50,178.73 L579.00,178.77 L579.50,178.82 L580.00,178.86 L580.50,178.91 L581.00,178.95 L581.50,179.00 L582.00,179.04 L582.50,179.08 L583.00,179.12 L583.50,179.16 L584.00,179.20" fill="none" stroke="#ef8a1e" stroke-width="1.9" stroke-linejoin="round"/><path d="M338.00,172.96 L338.50,174.98 L339.00,176.51 L339.50,177.67 L340.00,178.55 L340.50,179.21 L341.00,179.72 L341.50,180.10 L342.00,180.40 L342.50,180.66 L343.00,180.90 L343.50,181.15 L344.00,181.44 L344.50,181.72 L345.00,181.95 L345.50,182.05 L346.00,182.02 L346.50,181.86 L347.00,181.67 L347.50,181.49 L348.00,181.36 L348.50,181.29 L349.00,181.26 L349.50,181.25 L350.00,181.24 L350.50,181.24 L351.00,181.24 L351.50,181.24 L352.00,181.24 L352.50,181.24 L353.00,181.23 L353.50,181.23 L354.00,181.23 L354.50,181.23 L355.00,181.22 L355.50,181.22 L356.00,181.22 L356.50,181.21 L357.00,181.21 L357.50,181.21 L358.00,181.20 L358.50,181.20 L359.00,181.20 L359.50,181.19 L360.00,181.19 L360.50,181.18 L361.00,181.18 L361.50,181.18 L362.00,181.17 L362.50,181.17 L363.00,181.16 L363.50,181.16 L364.00,181.15 L364.50,181.15 L365.00,181.14 L365.50,181.14 L366.00,181.13 L366.50,181.13 L367.00,181.12 L367.50,181.11 L368.00,181.11 L368.50,181.10 L369.00,181.10 L369.50,181.09 L370.00,181.08 L370.50,181.08 L371.00,181.07 L371.50,181.06 L372.00,181.06 L372.50,181.05 L373.00,181.04 L373.50,181.03 L374.00,181.03 L374.50,181.02 L375.00,181.01 L375.50,181.00 L376.00,180.99 L376.50,180.98 L377.00,180.98 L377.50,180.97 L378.00,180.96 L378.50,180.95 L379.00,180.94 L379.50,180.93 L380.00,180.92 L380.50,180.91 L381.00,180.90 L381.50,180.88 L382.00,180.87 L382.50,180.86 L383.00,180.85 L383.50,180.84 L384.00,180.83 L384.50,180.81 L385.00,180.80 L385.50,180.79 L386.00,180.77 L386.50,180.76 L387.00,180.74 L387.50,180.73 L388.00,180.71 L388.50,180.70 L389.00,180.68 L389.50,180.67 L390.00,180.65 L390.50,180.63 L391.00,180.62 L391.50,180.60 L392.00,180.58 L392.50,180.56 L393.00,180.54 L393.50,180.52 L394.00,180.50 L394.50,180.48 L395.00,180.46 L395.50,180.44 L396.00,180.42 L396.50,180.40 L397.00,180.37 L397.50,180.35 L398.00,180.33 L398.50,180.30 L399.00,180.28 L399.50,180.25 L400.00,180.23 L400.50,180.20 L401.00,180.17 L401.50,180.14 L402.00,180.11 L402.50,180.08 L403.00,180.05 L403.50,180.02 L404.00,179.99 L404.50,179.96 L405.00,179.93 L405.50,179.89 L406.00,179.86 L406.50,179.82 L407.00,179.79 L407.50,179.75 L408.00,179.71 L408.50,179.67 L409.00,179.63 L409.50,179.59 L410.00,179.55 L410.50,179.50 L411.00,179.46 L411.50,179.41 L412.00,179.37 L412.50,179.32 L413.00,179.27 L413.50,179.22 L414.00,179.17 L414.50,179.12 L415.00,179.07 L415.50,179.01 L416.00,178.96 L416.50,178.90 L417.00,178.84 L417.50,178.78 L418.00,178.72 L418.50,178.66 L419.00,178.59 L419.50,178.53 L420.00,178.46 L420.50,178.39 L421.00,178.32 L421.50,178.24 L422.00,178.17 L422.50,178.09 L423.00,178.01 L423.50,177.93 L424.00,177.85 L424.50,177.77 L425.00,177.68 L425.50,177.59 L426.00,177.50 L426.50,177.41 L427.00,177.31 L427.50,177.21 L428.00,177.11 L428.50,177.01 L429.00,176.90 L429.50,176.79 L430.00,176.68 L430.50,176.56 L431.00,176.44 L431.50,176.32 L432.00,176.19 L432.50,176.06 L433.00,175.93 L433.50,175.79 L434.00,175.65 L434.50,175.51 L435.00,175.36 L435.50,175.20 L436.00,175.04 L436.50,174.88 L437.00,174.71 L437.50,174.53 L438.00,174.35 L438.50,174.16 L439.00,173.97 L439.50,173.77 L440.00,173.57 L440.50,173.35 L441.00,173.13 L441.50,172.91 L442.00,172.67 L442.50,172.43 L443.00,172.17 L443.50,171.91 L444.00,171.64 L444.50,171.36 L445.00,171.07 L445.50,170.77 L446.00,170.45 L446.50,170.13 L447.00,169.79 L447.50,169.44 L448.00,169.08 L448.50,168.70 L449.00,168.31 L449.50,167.90 L450.00,167.48 L450.50,167.04 L451.00,166.58 L451.50,166.11 L452.00,165.62 L452.50,165.11 L453.00,164.58 L453.50,164.03 L454.00,163.46 L454.50,162.87 L455.00,162.25 L455.50,161.61 L456.00,160.95 L456.50,160.27 L457.00,159.55 L457.50,158.82 L458.00,158.05 L458.50,157.26 L459.00,156.44 L459.50,155.59 L460.00,154.71 L460.50,153.80 L461.00,152.86 L461.50,151.88 L462.00,150.88 L462.50,149.84 L463.00,148.77 L463.50,147.66 L464.00,146.52 L464.50,145.34 L465.00,144.13 L465.50,142.88 L466.00,141.60 L466.50,140.28 L467.00,138.92 L467.50,137.52 L468.00,136.09 L468.50,134.62 L469.00,133.12 L469.50,131.57 L470.00,129.99 L470.50,128.37 L471.00,126.72 L471.50,125.02 L472.00,123.30 L472.50,121.53 L473.00,119.74 L473.50,117.90 L474.00,116.04 L474.50,114.14 L475.00,112.20 L475.50,110.24 L476.00,108.25 L476.50,106.23 L477.00,104.18 L477.50,102.10 L478.00,100.00 L478.50,97.87 L479.00,95.72 L479.50,93.56 L480.00,91.37 L480.50,89.16 L481.00,86.94 L481.50,84.70 L482.00,82.46 L482.50,80.20 L483.00,77.93 L483.50,75.66 L484.00,73.39 L484.50,71.11 L485.00,68.84 L485.50,66.57 L486.00,64.31 L486.50,62.06 L487.00,59.83 L487.50,57.61 L488.00,55.41 L488.50,53.24 L489.00,51.11 L489.50,49.01 L490.00,46.95 L490.50,44.94 L491.00,43.00 L491.50,41.13 L492.00,39.33 L492.50,37.64 L493.00,36.05 L493.50,34.59 L494.00,33.28 L494.50,32.14 L495.00,31.18 L495.50,30.44 L496.00,29.92 L496.50,29.65 L497.00,29.62 L497.50,29.80 L498.00,30.20 L498.50,30.78 L499.00,31.55 L499.50,32.49 L500.00,33.58 L500.50,34.80 L501.00,36.15 L501.50,37.61 L502.00,39.16 L502.50,40.81 L503.00,42.53 L503.50,44.32 L504.00,46.17 L504.50,48.08 L505.00,50.04 L505.50,52.05 L506.00,54.09 L506.50,56.17 L507.00,58.28 L507.50,60.42 L508.00,62.59 L508.50,64.77 L509.00,66.97 L509.50,69.18 L510.00,71.40 L510.50,73.63 L511.00,75.87 L511.50,78.11 L512.00,80.34 L512.50,82.57 L513.00,84.80 L513.50,87.02 L514.00,89.22 L514.50,91.41 L515.00,93.59 L515.50,95.75 L516.00,97.88 L516.50,100.00 L517.00,102.09 L517.50,104.16 L518.00,106.20 L518.50,108.21 L519.00,110.19 L519.50,112.14 L520.00,114.06 L520.50,115.95 L521.00,117.80 L521.50,119.61 L522.00,121.39 L522.50,123.13 L523.00,124.83 L523.50,126.50 L524.00,128.13 L524.50,129.71 L525.00,131.26 L525.50,132.77 L526.00,134.25 L526.50,135.68 L527.00,137.07 L527.50,138.42 L528.00,139.74 L528.50,141.02 L529.00,142.26 L529.50,143.46 L530.00,144.62 L530.50,145.75 L531.00,146.85 L531.50,147.90 L532.00,148.93 L532.50,149.92 L533.00,150.87 L533.50,151.80 L534.00,152.69 L534.50,153.55 L535.00,154.38 L535.50,155.18 L536.00,155.96 L536.50,156.70 L537.00,157.42 L537.50,158.12 L538.00,158.78 L538.50,159.43 L539.00,160.05 L539.50,160.65 L540.00,161.22 L540.50,161.78 L541.00,162.31 L541.50,162.83 L542.00,163.33 L542.50,163.80 L543.00,164.27 L543.50,164.71 L544.00,165.14 L544.50,165.55 L545.00,165.95 L545.50,166.34 L546.00,166.71 L546.50,167.07 L547.00,167.41 L547.50,167.75 L548.00,168.07 L548.50,168.39 L549.00,168.69 L549.50,168.98 L550.00,169.26 L550.50,169.54 L551.00,169.81 L551.50,170.06 L552.00,170.31 L552.50,170.56 L553.00,170.79 L553.50,171.02 L554.00,171.24 L554.50,171.46 L555.00,171.67 L555.50,171.87 L556.00,172.07 L556.50,172.26 L557.00,172.45 L557.50,172.63 L558.00,172.81 L558.50,172.98 L559.00,173.15 L559.50,173.32 L560.00,173.48 L560.50,173.64 L561.00,173.79 L561.50,173.94 L562.00,174.09 L562.50,174.23 L563.00,174.37 L563.50,174.51 L564.00,174.64 L564.50,174.77 L565.00,174.90 L565.50,175.03 L566.00,175.15 L566.50,175.27 L567.00,175.39 L567.50,175.50 L568.00,175.62 L568.50,175.73 L569.00,175.83 L569.50,175.94 L570.00,176.04 L570.50,176.15 L571.00,176.24 L571.50,176.34 L572.00,176.44 L572.50,176.53 L573.00,176.62 L573.50,176.71 L574.00,176.80 L574.50,176.89 L575.00,176.97 L575.50,177.06 L576.00,177.14 L576.50,177.22 L577.00,177.30 L577.50,177.37 L578.00,177.45 L578.50,177.52 L579.00,177.60 L579.50,177.67 L580.00,177.74 L580.50,177.81 L581.00,177.87 L581.50,177.94 L582.00,178.00 L582.50,178.07 L583.00,178.13 L583.50,178.19 L584.00,178.25" fill="none" stroke="#e01212" stroke-width="1.9" stroke-linejoin="round"/><rect x="521" y="26.1" width="53.8" height="52.3" fill="#fff" stroke="#444" stroke-width="1"/><line x1="524.6" y1="33.90" x2="548.8" y2="33.90" stroke="#9ad94a" stroke-width="2"/><text x="571.3" y="37.40" text-anchor="end" font-family="'Liberation Sans',sans-serif" font-weight="bold" font-size="9.6" fill="#1a1a1a">0.5h</text><line x1="524.6" y1="46.93" x2="548.8" y2="46.93" stroke="#fff000" stroke-width="2"/><text x="571.3" y="50.43" text-anchor="end" font-family="'Liberation Sans',sans-serif" font-weight="bold" font-size="9.6" fill="#1a1a1a">1h</text><line x1="524.6" y1="59.96" x2="548.8" y2="59.96" stroke="#ef8a1e" stroke-width="2"/><text x="571.3" y="63.46" text-anchor="end" font-family="'Liberation Sans',sans-serif" font-weight="bold" font-size="9.6" fill="#1a1a1a">1.5h</text><line x1="524.6" y1="72.99" x2="548.8" y2="72.99" stroke="#e01212" stroke-width="2"/><text x="571.3" y="76.49" text-anchor="end" font-family="'Liberation Sans',sans-serif" font-weight="bold" font-size="9.6" fill="#1a1a1a">2h</text><text x="460.7" y="222" text-anchor="middle" font-family="'Liberation Serif',serif" font-weight="bold" font-size="11.5" fill="#1a1a1a" textLength="78.7" lengthAdjust="spacingAndGlyphs">Wavelength /nm</text><text transform="translate(316.4,105.2) rotate(-90)" text-anchor="middle" font-family="'Liberation Serif',serif" font-weight="bold" font-size="10.5" fill="#1a1a1a" textLength="139" lengthAdjust="spacingAndGlyphs">Fluorescence Intensity (a.u.)</text><text x="349.5" y="23.8" font-family="'Liberation Serif',serif" font-weight="bold" font-size="31" fill="#000">b</text><path d="M335.8,231.4 V424.2 H600" fill="none" stroke="#000" stroke-width="2"/><line x1="331.3" y1="424.20" x2="335.8" y2="424.20" stroke="#000" stroke-width="1.3"/><text x="328.2" y="427.40" text-anchor="end" font-family="'Liberation Serif',serif" font-weight="bold" font-size="10.8" fill="#111">0</text><line x1="333.3" y1="404.92" x2="335.8" y2="404.92" stroke="#000" stroke-width="1.2"/><line x1="331.3" y1="385.65" x2="335.8" y2="385.65" stroke="#000" stroke-width="1.3"/><text x="328.2" y="388.85" text-anchor="end" font-family="'Liberation Serif',serif" font-weight="bold" font-size="10.8" fill="#111">20</text><line x1="333.3" y1="366.37" x2="335.8" y2="366.37" stroke="#000" stroke-width="1.2"/><line x1="331.3" y1="347.10" x2="335.8" y2="347.10" stroke="#000" stroke-width="1.3"/><text x="328.2" y="350.30" text-anchor="end" font-family="'Liberation Serif',serif" font-weight="bold" font-size="10.8" fill="#111">40</text><line x1="333.3" y1="327.82" x2="335.8" y2="327.82" stroke="#000" stroke-width="1.2"/><line x1="331.3" y1="308.54" x2="335.8" y2="308.54" stroke="#000" stroke-width="1.3"/><text x="328.2" y="311.74" text-anchor="end" font-family="'Liberation Serif',serif" font-weight="bold" font-size="10.8" fill="#111">60</text><line x1="333.3" y1="289.27" x2="335.8" y2="289.27" stroke="#000" stroke-width="1.2"/><line x1="331.3" y1="269.99" x2="335.8" y2="269.99" stroke="#000" stroke-width="1.3"/><text x="328.2" y="273.19" text-anchor="end" font-family="'Liberation Serif',serif" font-weight="bold" font-size="10.8" fill="#111">80</text><line x1="333.3" y1="250.72" x2="335.8" y2="250.72" stroke="#000" stroke-width="1.2"/><line x1="331.3" y1="231.44" x2="335.8" y2="231.44" stroke="#000" stroke-width="1.3"/><text x="328.2" y="234.64" text-anchor="end" font-family="'Liberation Serif',serif" font-weight="bold" font-size="10.8" fill="#111">100</text><rect x="341.10" y="347.71" width="53.10" height="76.49" fill="#ff0000" stroke="#300" stroke-width="1"/><line x1="367.65" y1="424.2" x2="367.65" y2="427.7" stroke="#000" stroke-width="1.3"/><text x="367.65" y="437.4" text-anchor="middle" font-family="'Liberation Serif',serif" font-weight="bold" font-size="12.5" fill="#111">0.5</text><text x="366.10" y="346.20" text-anchor="middle" font-family="'Liberation Serif',serif" font-weight="bold" font-size="13.2" fill="#111">39.68%</text><rect x="406.80" y="333.04" width="53.30" height="91.16" fill="#ff0000" stroke="#300" stroke-width="1"/><line x1="433.45" y1="424.2" x2="433.45" y2="427.7" stroke="#000" stroke-width="1.3"/><text x="433.45" y="437.4" text-anchor="middle" font-family="'Liberation Serif',serif" font-weight="bold" font-size="12.5" fill="#111">1</text><text x="434.20" y="331.50" text-anchor="middle" font-family="'Liberation Serif',serif" font-weight="bold" font-size="13.2" fill="#111">47.29%</text><rect x="473.00" y="341.60" width="52.80" height="82.60" fill="#ff0000" stroke="#300" stroke-width="1"/><line x1="499.40" y1="424.2" x2="499.40" y2="427.7" stroke="#000" stroke-width="1.3"/><text x="499.40" y="437.4" text-anchor="middle" font-family="'Liberation Serif',serif" font-weight="bold" font-size="12.5" fill="#111">1.5</text><text x="499.70" y="339.30" text-anchor="middle" font-family="'Liberation Serif',serif" font-weight="bold" font-size="13.2" fill="#111">42.85%</text><rect x="538.80" y="325.93" width="53.00" height="98.27" fill="#ff0000" stroke="#300" stroke-width="1"/><line x1="565.30" y1="424.2" x2="565.30" y2="427.7" stroke="#000" stroke-width="1.3"/><text x="565.30" y="437.4" text-anchor="middle" font-family="'Liberation Serif',serif" font-weight="bold" font-size="12.5" fill="#111">2</text><text x="568.40" y="322.20" text-anchor="middle" font-family="'Liberation Serif',serif" font-weight="bold" font-size="13.2" fill="#111">50.98%</text><text x="416" y="451" font-family="'Liberation Serif',serif" font-weight="bold" font-size="12.6" fill="#111" textLength="100.6" lengthAdjust="spacing">Heating time <tspan font-style="italic">T</tspan>/°C</text><text transform="translate(310.9,326.5) rotate(-90)" text-anchor="middle" font-family="'Liberation Serif',serif" font-weight="bold" font-size="12.5" fill="#111" textLength="42.2" lengthAdjust="spacingAndGlyphs">QY /%</text><text x="353.5" y="256.8" font-family="'Liberation Serif',serif" font-weight="bold" font-size="28.5" fill="#000">d</text><defs><filter id="bl" x="-10%" y="-10%" width="120%" height="120%"><feGaussianBlur stdDeviation="0.7"/></filter><filter id="bl2" x="-50%" y="-50%" width="200%" height="200%"><feGaussianBlur stdDeviation="2"/></filter><clipPath id="photo"><rect x="13.5" y="232.5" width="276.8" height="200.2"/></clipPath><linearGradient id="lq0" x1="0" y1="0" x2="0" y2="1"><stop offset="0" stop-color="#3a8c1a"/><stop offset="0.3" stop-color="#3a8c1a"/><stop offset="1" stop-color="#368618"/></linearGradient><linearGradient id="gl0" x1="0" y1="0" x2="0" y2="1"><stop offset="0" stop-color="#12400c" stop-opacity="0"/><stop offset="0.55" stop-color="#12400c" stop-opacity="0.45"/><stop offset="1" stop-color="#12400c" stop-opacity="0.9"/></linearGradient><linearGradient id="ws0" x1="0" y1="0" x2="0" y2="1"><stop offset="0" stop-color="#5cbc30" stop-opacity="0"/><stop offset="1" stop-color="#5cbc30" stop-opacity="0.55"/></linearGradient><radialGradient id="sp0"><stop offset="0" stop-color="#204838" stop-opacity="0.85"/><stop offset="1" stop-color="#204838" stop-opacity="0"/></radialGradient><linearGradient id="cu0" x1="0" y1="0" x2="0" y2="1"><stop offset="0" stop-color="#282e7c"/><stop offset="0.35" stop-color="#1e2466"/><stop offset="1" stop-color="#1e2466"/></linearGradient><linearGradient id="lq1" x1="0" y1="0" x2="0" y2="1"><stop offset="0" stop-color="#7c8406"/><stop offset="0.3" stop-color="#7c8406"/><stop offset="1" stop-color="#747c02"/></linearGradient><linearGradient id="gl1" x1="0" y1="0" x2="0" y2="1"><stop offset="0" stop-color="#2c3408" stop-opacity="0"/><stop offset="0.55" stop-color="#2c3408" stop-opacity="0.45"/><stop offset="1" stop-color="#2c3408" stop-opacity="0.9"/></linearGradient><linearGradient id="ws1" x1="0" y1="0" x2="0" y2="1"><stop offset="0" stop-color="#b0b820" stop-opacity="0"/><stop offset="1" stop-color="#b0b820" stop-opacity="0.55"/></linearGradient><radialGradient id="sp1"><stop offset="0" stop-color="#3e3038" stop-opacity="0.85"/><stop offset="1" stop-color="#3e3038" stop-opacity="0"/></radialGradient><linearGradient id="cu1" x1="0" y1="0" x2="0" y2="1"><stop offset="0" stop-color="#342e92"/><stop offset="0.35" stop-color="#2a247e"/><stop offset="1" stop-color="#2a247e"/></linearGradient><linearGradient id="lq2" x1="0" y1="0" x2="0" y2="1"><stop offset="0" stop-color="#ca6804"/><stop offset="0.3" stop-color="#ca6804"/><stop offset="1" stop-color="#c26202"/></linearGradient><linearGradient id="gl2" x1="0" y1="0" x2="0" y2="1"><stop offset="0" stop-color="#3e2206" stop-opacity="0"/><stop offset="0.55" stop-color="#3e2206" stop-opacity="0.45"/><stop offset="1" stop-color="#3e2206" stop-opacity="0.9"/></linearGradient><linearGradient id="ws2" x1="0" y1="0" x2="0" y2="1"><stop offset="0" stop-color="#f08c20" stop-opacity="0"/><stop offset="1" stop-color="#f08c20" stop-opacity="0.55"/></linearGradient><radialGradient id="sp2"><stop offset="0" stop-color="#583028" stop-opacity="0.85"/><stop offset="1" stop-color="#583028" stop-opacity="0"/></radialGradient><linearGradient id="cu2" x1="0" y1="0" x2="0" y2="1"><stop offset="0" stop-color="#3c2678"/><stop offset="0.35" stop-color="#321e66"/><stop offset="1" stop-color="#321e66"/></linearGradient><linearGradient id="lq3" x1="0" y1="0" x2="0" y2="1"><stop offset="0" stop-color="#e8220a"/><stop offset="0.3" stop-color="#e8220a"/><stop offset="1" stop-color="#e01e08"/></linearGradient><linearGradient id="gl3" x1="0" y1="0" x2="0" y2="1"><stop offset="0" stop-color="#580c06" stop-opacity="0"/><stop offset="0.55" stop-color="#580c06" stop-opacity="0.45"/><stop offset="1" stop-color="#580c06" stop-opacity="0.9"/></linearGradient><linearGradient id="ws3" x1="0" y1="0" x2="0" y2="1"><stop offset="0" stop-color="#ff4a2a" stop-opacity="0"/><stop offset="1" stop-color="#ff4a2a" stop-opacity="0.55"/></linearGradient><radialGradient id="sp3"><stop offset="0" stop-color="#701028" stop-opacity="0.85"/><stop offset="1" stop-color="#701028" stop-opacity="0"/></radialGradient><linearGradient id="cu3" x1="0" y1="0" x2="0" y2="1"><stop offset="0" stop-color="#402072"/><stop offset="0.35" stop-color="#361862"/><stop offset="1" stop-color="#361862"/></linearGradient></defs><rect x="13.5" y="232.5" width="276.8" height="200.2" fill="#030307"/><circle cx="123" cy="245" r="3.2" fill="#2a1ea0" filter="url(#bl2)" opacity="0.9" clip-path="url(#photo)"/><g clip-path="url(#photo)"><g filter="url(#bl)"><g transform="translate(23.40,252) skewX(1.146) translate(0,-252)"><rect x="0.3" y="293" width="48.7" height="134" rx="6" fill="#06060e"/><rect x="0.9" y="296" width="1.2" height="68" fill="#2a4a34" opacity="0.6"/><rect x="47.2" y="296" width="1.2" height="68" fill="#22283e" opacity="0.6"/><rect x="3.2" y="300" width="1.6" height="62" fill="url(#ws0)"/><rect x="44.1" y="300" width="1.6" height="62" fill="url(#ws0)"/><rect x="0.8" y="343" width="47.7" height="30" fill="url(#gl0)"/><path d="M0.8,363.5 Q24.6,380.5 48.5,363.5 V416 Q48.5,427.5 24.6,427.5 Q0.8,427.5 0.8,416 Z" fill="url(#lq0)"/><rect x="1.2" y="366" width="3" height="52" fill="#ffffff" opacity="0.10"/><rect x="46.5" y="366" width="2" height="52" fill="#000" opacity="0.18"/><path d="M1,364 Q24.6,381 48.3,364" fill="none" stroke="#5cbc30" stroke-width="3.6" opacity="0.85"/><path d="M1.5,412 Q24.6,419 47.8,412" fill="none" stroke="#80b8a8" stroke-width="4" opacity="0.35"/><path d="M4,421.5 Q24.6,431 45.3,421.5" fill="none" stroke="#3434c8" stroke-width="3" opacity="0.9"/><rect x="1" y="271.5" width="47.8" height="23.5" rx="2" fill="#1a2248"/><ellipse cx="28.6" cy="284.5" rx="8" ry="7" fill="url(#sp0)"/><rect x="1.5" y="293.2" width="46.8" height="1.6" fill="#5a60a0" opacity="0.35"/><rect x="0" y="251.3" width="49.3" height="21" rx="8" ry="5.5" fill="url(#cu0)"/><rect x="0" y="262" width="49.3" height="10.5" fill="#1e2466"/><rect x="0" y="272" width="49.3" height="1" fill="#100c30" opacity="0.6"/></g><g transform="translate(89.90,252) skewX(0.688) translate(0,-252)"><rect x="0.3" y="293" width="48.8" height="134" rx="6" fill="#06060e"/><rect x="0.9" y="296" width="1.2" height="68" fill="#3a4a30" opacity="0.6"/><rect x="47.3" y="296" width="1.2" height="68" fill="#402030" opacity="0.6"/><rect x="3.2" y="300" width="1.6" height="62" fill="url(#ws1)"/><rect x="44.2" y="300" width="1.6" height="62" fill="url(#ws1)"/><rect x="0.8" y="343" width="47.8" height="30" fill="url(#gl1)"/><path d="M0.8,363.5 Q24.7,380.5 48.6,363.5 V416 Q48.6,427.5 24.7,427.5 Q0.8,427.5 0.8,416 Z" fill="url(#lq1)"/><rect x="1.2" y="366" width="3" height="52" fill="#ffffff" opacity="0.10"/><rect x="46.6" y="366" width="2" height="52" fill="#000" opacity="0.18"/><path d="M1,364 Q24.7,381 48.4,364" fill="none" stroke="#b0b820" stroke-width="3.6" opacity="0.85"/><path d="M1.5,412 Q24.7,419 47.9,412" fill="none" stroke="#c0c0b8" stroke-width="4" opacity="0.35"/><path d="M4,421.5 Q24.7,431 45.4,421.5" fill="none" stroke="#3c3cc8" stroke-width="3" opacity="0.9"/><rect x="1" y="271.5" width="47.9" height="23.5" rx="2" fill="#28285a"/><ellipse cx="28.7" cy="284.5" rx="8" ry="7" fill="url(#sp1)"/><rect x="1.5" y="293.2" width="46.9" height="1.6" fill="#5a60a0" opacity="0.35"/><rect x="0" y="251.3" width="49.4" height="21" rx="8" ry="5.5" fill="url(#cu1)"/><rect x="0" y="262" width="49.4" height="10.5" fill="#2a247e"/><rect x="0" y="272" width="49.4" height="1" fill="#100c30" opacity="0.6"/></g><g transform="translate(156.00,252) skewX(-0.229) translate(0,-252)"><rect x="0.3" y="293" width="48.7" height="134" rx="6" fill="#06060e"/><rect x="0.9" y="296" width="1.2" height="68" fill="#4a3828" opacity="0.6"/><rect x="47.2" y="296" width="1.2" height="68" fill="#3a2030" opacity="0.6"/><rect x="3.2" y="300" width="1.6" height="62" fill="url(#ws2)"/><rect x="44.1" y="300" width="1.6" height="62" fill="url(#ws2)"/><rect x="0.8" y="343" width="47.7" height="30" fill="url(#gl2)"/><path d="M0.8,363.5 Q24.6,380.5 48.5,363.5 V416 Q48.5,427.5 24.6,427.5 Q0.8,427.5 0.8,416 Z" fill="url(#lq2)"/><rect x="1.2" y="366" width="3" height="52" fill="#ffffff" opacity="0.10"/><rect x="46.5" y="366" width="2" height="52" fill="#000" opacity="0.18"/><path d="M1,364 Q24.6,381 48.3,364" fill="none" stroke="#f08c20" stroke-width="3.6" opacity="0.85"/><path d="M1.5,412 Q24.6,419 47.8,412" fill="none" stroke="#e8c0c0" stroke-width="4" opacity="0.35"/><path d="M4,421.5 Q24.6,431 45.3,421.5" fill="none" stroke="#4838c8" stroke-width="3" opacity="0.9"/><rect x="1" y="271.5" width="47.8" height="23.5" rx="2" fill="#322458"/><ellipse cx="28.6" cy="284.5" rx="8" ry="7" fill="url(#sp2)"/><rect x="1.5" y="293.2" width="46.8" height="1.6" fill="#5a60a0" opacity="0.35"/><rect x="0" y="251.3" width="49.3" height="21" rx="8" ry="5.5" fill="url(#cu2)"/><rect x="0" y="262" width="49.3" height="10.5" fill="#321e66"/><rect x="0" y="272" width="49.3" height="1" fill="#100c30" opacity="0.6"/></g><g transform="translate(233.00,252) skewX(-1.833) translate(0,-252)"><rect x="0.3" y="293" width="48.4" height="134" rx="6" fill="#06060e"/><rect x="0.9" y="296" width="1.2" height="68" fill="#5a2030" opacity="0.6"/><rect x="46.9" y="296" width="1.2" height="68" fill="#40182c" opacity="0.6"/><rect x="3.2" y="300" width="1.6" height="62" fill="url(#ws3)"/><rect x="43.8" y="300" width="1.6" height="62" fill="url(#ws3)"/><rect x="0.8" y="343" width="47.4" height="30" fill="url(#gl3)"/><path d="M0.8,363.5 Q24.5,380.5 48.2,363.5 V416 Q48.2,427.5 24.5,427.5 Q0.8,427.5 0.8,416 Z" fill="url(#lq3)"/><rect x="1.2" y="366" width="3" height="52" fill="#ffffff" opacity="0.10"/><rect x="46.2" y="366" width="2" height="52" fill="#000" opacity="0.18"/><path d="M1,364 Q24.5,381 48.0,364" fill="none" stroke="#ff4a2a" stroke-width="3.6" opacity="0.85"/><path d="M1.5,412 Q24.5,419 47.5,412" fill="none" stroke="#ffa0c8" stroke-width="4" opacity="0.35"/><path d="M4,421.5 Q24.5,431 45.0,421.5" fill="none" stroke="#5834c8" stroke-width="3" opacity="0.9"/><rect x="1" y="271.5" width="47.5" height="23.5" rx="2" fill="#361840"/><ellipse cx="18.5" cy="284.5" rx="8" ry="7" fill="url(#sp3)"/><rect x="1.5" y="293.2" width="46.5" height="1.6" fill="#5a60a0" opacity="0.35"/><rect x="0" y="251.3" width="49.0" height="21" rx="8" ry="5.5" fill="url(#cu3)"/><rect x="0" y="262" width="49.0" height="10.5" fill="#361862"/><rect x="0" y="272" width="49.0" height="1" fill="#100c30" opacity="0.6"/></g></g></g><text x="13.5" y="251.6" font-family="'Liberation Serif',serif" font-weight="bold" font-size="29" fill="#fff">c</text></svg></body></html>
